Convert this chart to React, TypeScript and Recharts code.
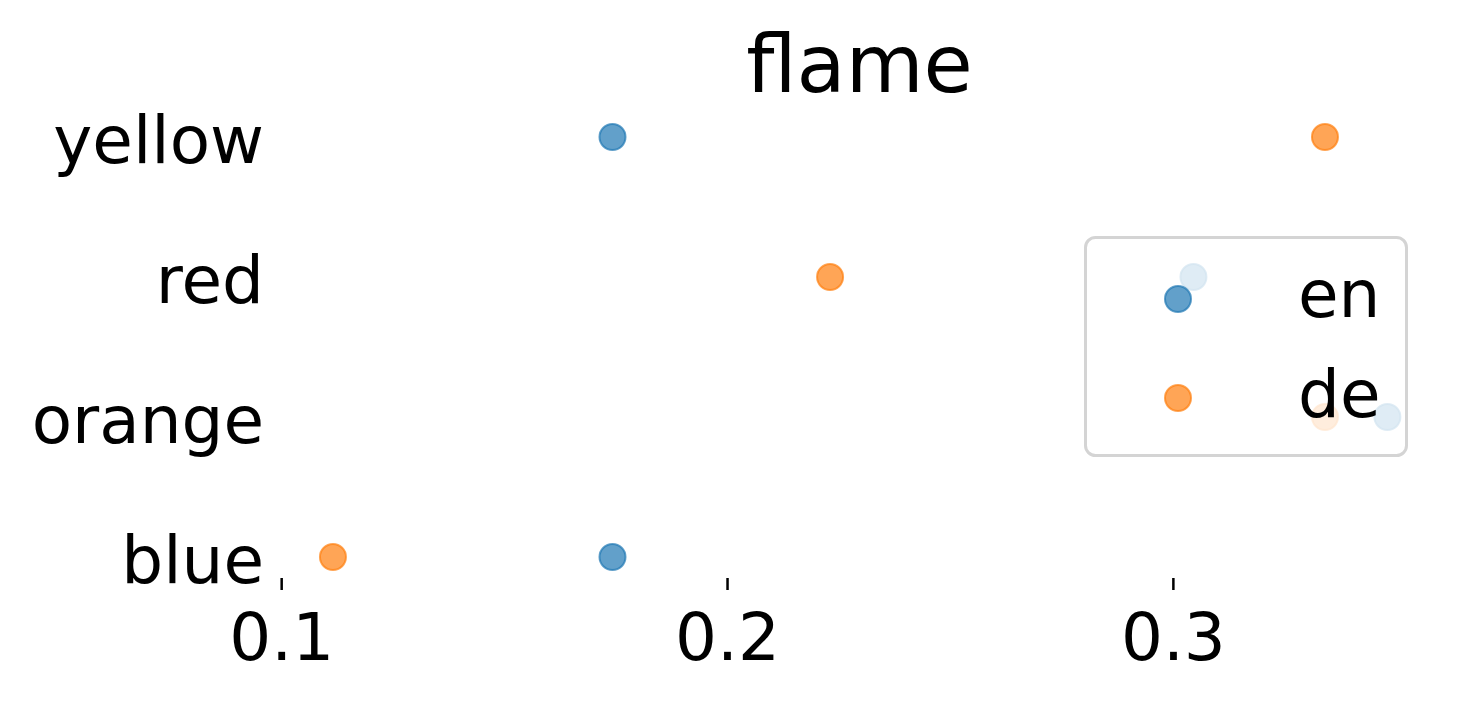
import { ScatterChart, Scatter, XAxis, YAxis, Legend } from 'recharts';

const categories = ['blue', 'orange', 'red', 'yellow'];
const enValues = [0.1742, 0.348, 0.3045, 0.1742];
const deValues = [0.1115, 0.334, 0.223, 0.334];
const xTicks = [0.1, 0.2, 0.3];

const seriesNames = ['en', 'de'];
const colors = ['#1f77b4', '#ff7f0e'];

const enData = categories.map((c, i) => ({ x: enValues[i], y: i, name: c }));
const deData = categories.map((c, i) => ({ x: deValues[i], y: i, name: c }));

const font = 'DejaVu Sans, sans-serif';

const dot = (color: string) => (props: any) => (
  <circle
    cx={props.cx}
    cy={props.cy}
    r={13}
    fill={color}
    fillOpacity={0.7}
    stroke={color}
    strokeOpacity={0.7}
    strokeWidth={2}
  />
);

const LegendBox = () => (
  <svg width={324} height={221} style={{ display: 'block', overflow: 'visible' }}>
    <rect x={1.5} y={1.5} width={321} height={218} rx={10} fill="#fff" fillOpacity={0.8} stroke="#d4d4d4" strokeWidth={3} />
    {seriesNames.map((n, i) => (
      <g key={n}>
        <circle cx={94} cy={63 + i * 99} r={13} fill={colors[i]} fillOpacity={0.7} stroke={colors[i]} strokeOpacity={0.7} strokeWidth={2} />
        <text x={214} y={81 + i * 100} fontSize={66} fontFamily={font} fill="#000">
          {n}
        </text>
      </g>
    ))}
  </svg>
);

// y labels sit a touch lower than recharts centres them
const YTick = (props: any) => (
  <text x={props.x} y={props.y + 26} textAnchor="end" fontSize={66} fontFamily={font} fill="#000">
    {categories[props.payload.value]}
  </text>
);

export default function App() {
  return (
    <div style={{ position: 'absolute', left: 0, top: 0, width: 1471, height: 703, background: '#fff' }}>
      <ScatterChart width={1471} height={703} margin={{ top: 116, right: 31, bottom: 0, left: 0 }}>
        <XAxis
          dataKey="x"
          type="number"
          domain={[0.0994, 0.3598]}
          ticks={xTicks}
          allowDataOverflow
          axisLine={false}
          tickLine={{ stroke: '#000', strokeWidth: 2.5 }}
          tickSize={12}
          tickMargin={23}
          height={125}
          tick={{ fontSize: 66, fontFamily: font, fill: '#000' }}
        />
        <YAxis
          dataKey="y"
          type="number"
          domain={[-0.15, 3.15]}
          ticks={[0, 1, 2, 3]}
          allowDataOverflow
          axisLine={false}
          tickLine={false}
          tickSize={0}
          tickMargin={15}
          width={279}
          tick={<YTick />}
        />
        <Scatter name="en" data={enData} fill={colors[0]} shape={dot(colors[0])} isAnimationActive={false} />
        <Scatter name="de" data={deData} fill={colors[1]} shape={dot(colors[1])} isAnimationActive={false} />
        <Legend
          layout="horizontal"
          align="center"
          verticalAlign="middle"
          content={() => <LegendBox />}
          wrapperStyle={{ left: 1084, top: 236, width: 324, height: 221 }}
        />
      </ScatterChart>
      <svg width={1471} height={120} style={{ position: 'absolute', left: 0, top: 0, pointerEvents: 'none' }}>
        <text x={859.5} y={92} textAnchor="middle" fontSize={80} fontFamily={font} fill="#000">
          flame
        </text>
      </svg>
    </div>
  );
}
